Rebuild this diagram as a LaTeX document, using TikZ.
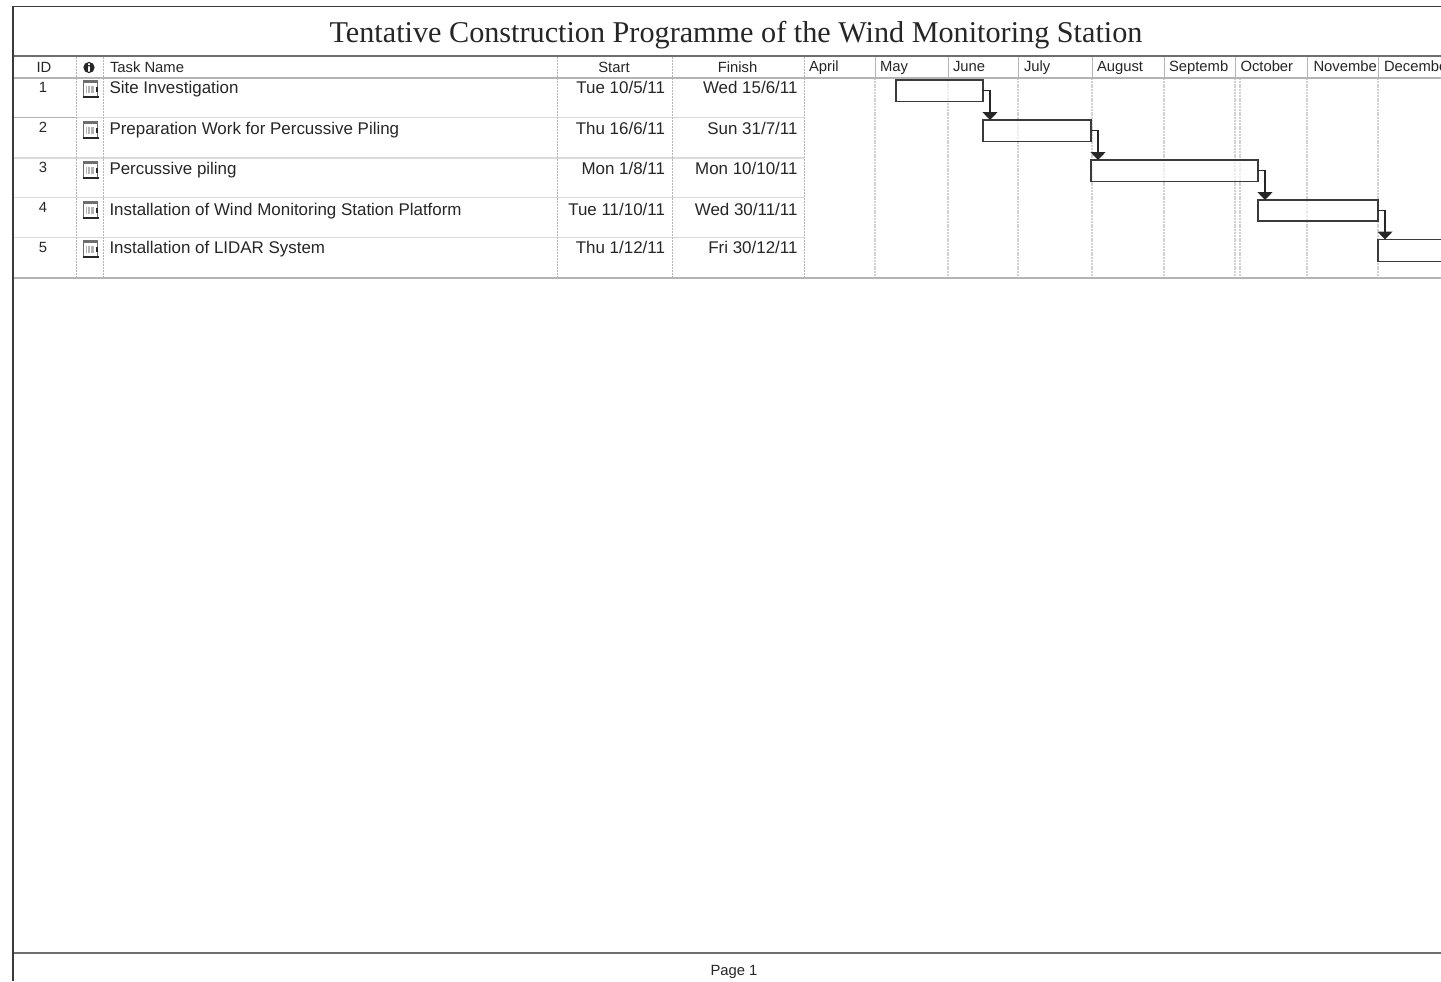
\documentclass[tikz,border=0pt]{standalone}
\usepackage{fontspec}
\setmainfont{Liberation Sans}
\newfontfamily\titlefont{Liberation Serif}
\usetikzlibrary{arrows.meta,calc}
\definecolor{ink}{HTML}{262626}
\definecolor{frameline}{HTML}{3A3A3A}
\definecolor{ruleline}{HTML}{6E6E6E}
\definecolor{softline}{HTML}{DADADA}
\definecolor{gridline}{HTML}{B4B4B4}
\definecolor{monthline}{HTML}{D2D2D2}
\tikzset{
  x=0.5pt,y=-0.5pt,
  frame/.style={draw=frameline,line width=0.85pt},
  headrule/.style={draw=ruleline,line width=0.8pt},
  rowrule/.style={draw=softline,line width=0.6pt},
  colrule/.style={draw=gridline,line width=0.5pt,dash pattern=on 1pt off 0.5pt},
  monthrule/.style={draw=monthline,line width=0.6pt,dash pattern=on 1pt off 0.4pt},
  lab/.style={inner sep=0pt,outer sep=0pt,text=ink,font=\fontsize{8.47pt}{10pt}\selectfont},
  headlab/.style={lab,font=\fontsize{7.4pt}{9pt}\selectfont},
  idlab/.style={lab,font=\fontsize{7.4pt}{9pt}\selectfont,anchor=base},
  tasklab/.style={lab,anchor=base west},
  datelab/.style={lab,anchor=base east},
  monthlab/.style={headlab,anchor=base west},
  collab/.style={headlab,anchor=base},
  bar/.style={draw=frameline,fill=white,fill opacity=0.6,line width=0.8pt,inner sep=0pt,outer sep=0pt,anchor=north west},
  link/.style={draw=ink,line width=0.7pt,-{Triangle[width=7.5pt,length=4pt]}},
  calicon/.pic={
    \draw[draw=ruleline,line width=0.4pt,fill=white] (-7,0) rectangle (7,16);
    \fill[ruleline] (-7,0) rectangle (7,2.5);
    \fill[ink] (-8,16) rectangle (8,18.2);
    \fill[gridline] (-5,6) rectangle (3,13);
    \foreach \c in {-3,0}{\draw[white,line width=0.25pt] (\c,6) -- (\c,13);}
    \fill[ink] (5,7) rectangle (7,12);
  }
}
\begin{document}
\begin{tikzpicture}
\useasboundingbox (0,0) rectangle (1441,981);
\clip (0,0) rectangle (1441,981);
\fill[white] (0,0) rectangle (1441,981);

% row rules
\foreach \y in {117.5,158,197.5,237.5} {\draw[rowrule] (13,\y) -- (804,\y);}
\draw[gridline,line width=0.4pt] (13,117.5) -- (76,117.5);
% column rules
\foreach \x in {76,103,557,672,804.5} {\draw[colrule] (\x,57) -- (\x,278);}
\foreach \x in {875,948,1018,1092,1164,1235,1240,1307,1378} {\draw[monthrule] (\x,78) -- (\x,278);}
\foreach \x in {875,948,1018,1092,1164,1235,1307,1378} {\draw[draw=gridline,line width=0.5pt] (\x,57) -- (\x,78);}

% frame
\draw[headrule] (13,56) -- (1441,56);
\draw[headrule,draw=gridline] (13,78) -- (1441,78);
\draw[headrule,draw=gridline] (13,278) -- (1441,278);
\draw[headrule] (13,953) -- (1441,953);
\draw[frame] (13,981) -- (13,6.5) -- (1441,6.5);

% title and footer
\node[inner sep=0pt,text=ink,anchor=base,font=\titlefont\fontsize{15.1pt}{18pt}\selectfont] (title) at (736,42) {Tentative Construction Programme of the Wind Monitoring Station};
\node[collab] (page) at (734,975) {Page 1};

% header
\node[collab] (hid) at (44,72) {ID};
\node[circle,fill=ink,minimum size=5.6pt,inner sep=0pt] (hinfo) at (89,67.5) {};
\fill[white] (88.1,63.3) rectangle (89.9,65) (88.1,66.3) rectangle (89.9,71.5);
\node[monthlab] (htask) at (110,72) {Task Name};
\node[collab] (hstart) at (614,72) {Start};
\node[collab] (hfinish) at (737.5,72) {Finish};
\node[monthlab] (m4) at (809,71.5) {April};
\node[monthlab] (m5) at (880,71.5) {May};
\node[monthlab] (m6) at (953,71.5) {June};
\node[monthlab] (m7) at (1024,71.5) {July};
\node[monthlab] (m8) at (1097,71.5) {August};
\node[monthlab] (m9) at (1169,71.5) {Septemb};
\node[monthlab] (m10) at (1240.5,71.5) {October};
\node[monthlab] (m11) at (1313.5,71.5) {Novembe};
\node[monthlab] (m12) at (1384,71.5) {Decembe};

% rows
\node[idlab] (id1) at (43,92) {1};
\node[idlab] (id2) at (43,132) {2};
\node[idlab] (id3) at (43,172) {3};
\node[idlab] (id4) at (43,212) {4};
\node[idlab] (id5) at (43,252) {5};
\pic at (90.5,80) {calicon};
\pic at (90.5,121) {calicon};
\pic at (90.5,161) {calicon};
\pic at (90.5,201) {calicon};
\pic at (90.5,240) {calicon};

\node[tasklab] (t1) at (109.5,93) {Site Investigation};
\node[tasklab] (t2) at (109.5,134) {Preparation Work for Percussive Piling};
\node[tasklab] (t3) at (109.5,174) {Percussive piling};
\node[tasklab] (t4) at (109.5,215) {Installation of Wind Monitoring Station Platform};
\node[tasklab] (t5) at (109.5,253.5) {Installation of LIDAR System};

\node[datelab] (s1) at (665,93) {Tue 10/5/11};
\node[datelab] (s2) at (665,134) {Thu 16/6/11};
\node[datelab] (s3) at (665,174) {Mon 1/8/11};
\node[datelab] (s4) at (665,215) {Tue 11/10/11};
\node[datelab] (s5) at (665,253.5) {Thu 1/12/11};
\node[datelab] (f1) at (797.5,93) {Wed 15/6/11};
\node[datelab] (f2) at (797.5,134) {Sun 31/7/11};
\node[datelab] (f3) at (797.5,174) {Mon 10/10/11};
\node[datelab] (f4) at (797.5,215) {Wed 30/11/11};
\node[datelab] (f5) at (797.5,253.5) {Fri 30/12/11};

% bars
\node[bar,minimum width=43.5pt,minimum height=10.75pt] (b1) at (896,80) {};
\node[bar,minimum width=54pt,minimum height=10.75pt] (b2) at (983,120) {};
\node[bar,minimum width=83.5pt,minimum height=10.75pt] (b3) at (1091,160) {};
\node[bar,minimum width=60pt,minimum height=10.5pt] (b4) at (1258,200) {};
\node[bar,minimum width=60pt,minimum height=11pt] (b5) at (1378,239.5) {};

% links
\draw[link] (b1.east) -| ($(b2.north west)+(7,0)$);
\draw[link] (b2.east) -| ($(b3.north west)+(7,0)$);
\draw[link] (b3.east) -| ($(b4.north west)+(7,0)$);
\draw[link] (b4.east) -| ($(b5.north west)+(7,0)$);
\end{tikzpicture}
\end{document}
